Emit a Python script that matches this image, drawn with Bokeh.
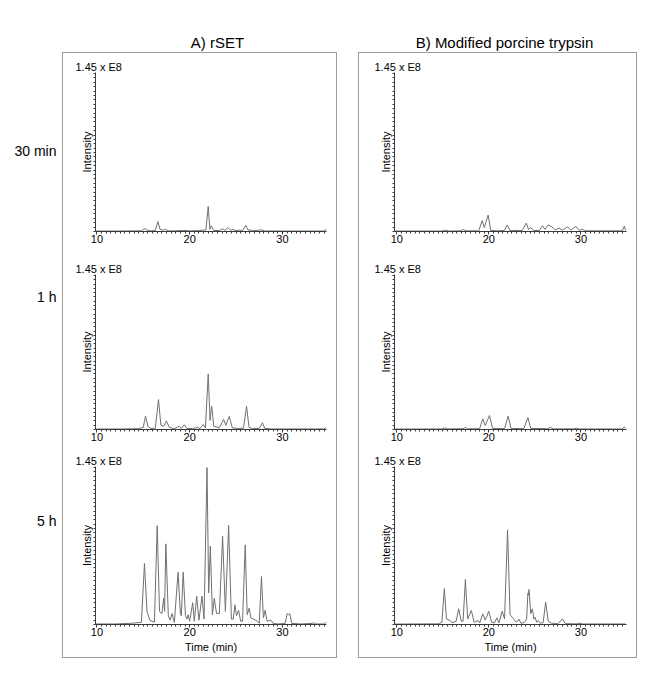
import numpy as np
from bokeh.plotting import figure
from bokeh.layouts import row, column
from bokeh.models import Range1d, SingleIntervalTicker, FixedTicker, Spacer
from bokeh.embed import file_html
from bokeh.resources import INLINE
from bokeh.core.properties import value

FONT = "Liberation Sans"

col_titles = ["A) rSET", "B) Modified porcine trypsin"]
row_labels = ["30 min", "1 h", "5 h"]
scale_label = "1.45 x E8"
y_label = "Intensity"
x_label = "Time (min)"
y_max = 1.45  # intensity in units of 1e8

# ---- A) rSET, 30 min : time (min), intensity (x1e8)
a30_t = [9.9, 12.0, 14.8, 15.0, 15.24, 15.5, 15.9, 16.3, 16.57, 16.8, 17.1, 17.4, 17.7, 18.5, 19.2, 20.0,
         21.0, 21.5, 21.75, 22.0, 22.18, 22.33, 22.6, 23.2, 23.55, 23.8, 24.12, 24.4, 24.7, 25.0, 25.4,
         25.7, 26.06, 26.3, 26.5, 26.8, 27.78, 28.1, 30.0, 32.0, 34.5, 34.68, 34.75]
a30_y = [0.004, 0.004, 0.006, 0.018, 0.025, 0.008, 0.006, 0.01, 0.091, 0.02, 0.012, 0.02, 0.006, 0.006, 0.01, 0.006,
         0.008, 0.014, 0.012, 0.228, 0.02, 0.052, 0.01, 0.008, 0.025, 0.01, 0.036, 0.012, 0.018, 0.008, 0.012,
         0.008, 0.055, 0.012, 0.016, 0.006, 0.015, 0.005, 0.004, 0.004, 0.004, 0.02, 0.01]

# ---- A) rSET, 1 h
a1h_t = [9.9, 13.0, 14.5, 15.0, 15.24, 15.5, 15.8, 16.3, 16.64, 16.9, 17.2, 17.5, 17.8, 18.3, 18.9, 19.1,
         19.43, 19.7, 20.3, 20.87, 21.1, 21.47, 21.7, 22.0, 22.2, 22.37, 22.6, 23.2, 23.66, 23.9, 24.27,
         24.6, 25.2, 25.8, 26.13, 26.4, 26.8, 27.5, 27.85, 28.1, 28.8, 31.0, 34.5, 34.68, 34.75]
a1h_y = [0.004, 0.005, 0.008, 0.02, 0.125, 0.03, 0.01, 0.012, 0.28, 0.04, 0.03, 0.08, 0.02, 0.008, 0.03, 0.01,
         0.045, 0.01, 0.008, 0.02, 0.008, 0.047, 0.015, 0.52, 0.085, 0.22, 0.03, 0.015, 0.094, 0.04, 0.122,
         0.015, 0.01, 0.012, 0.217, 0.02, 0.008, 0.01, 0.063, 0.01, 0.005, 0.005, 0.005, 0.018, 0.01]

# ---- A) rSET, 5 h
a5h_t = [9.9, 12.0, 13.5, 14.2, 14.8, 15.13, 15.4, 15.7, 16.2, 16.5, 16.75, 17.0, 17.2, 17.3, 17.43, 17.7,
         17.9, 18.1, 18.35, 18.75, 19.0, 19.1, 19.3, 19.55, 19.7, 19.83, 20.0, 20.33, 20.5, 20.76, 21.0,
         21.33, 21.55, 21.87, 22.05, 22.23, 22.45, 22.65, 22.9, 23.2, 23.55, 23.85, 24.2, 24.5, 24.7,
         24.88, 25.05, 25.27, 25.5, 25.7, 25.99, 26.2, 26.41, 26.6, 26.9, 27.3, 27.5, 27.74, 27.95, 28.13,
         28.35, 28.75, 29.0, 29.5, 30.3, 30.5, 30.65, 30.8, 31.0, 32.0, 33.2, 33.4, 33.6, 34.5, 34.68, 34.75]
a5h_y = [0.005, 0.005, 0.01, 0.015, 0.02, 0.56, 0.12, 0.04, 0.02, 0.906, 0.12, 0.1, 0.24, 0.12, 0.74, 0.08,
         0.04, 0.10, 0.02, 0.48, 0.1, 0.08, 0.48, 0.08, 0.05, 0.09, 0.03, 0.2, 0.03, 0.26, 0.04,
         0.26, 0.05, 1.44, 0.29, 0.72, 0.09, 0.24, 0.1, 0.1, 0.81, 0.12, 0.91, 0.05, 0.05,
         0.18, 0.08, 0.13, 0.03, 0.03, 0.73, 0.09, 0.15, 0.06, 0.05, 0.03, 0.01, 0.44, 0.06, 0.13,
         0.03, 0.04, 0.01, 0.005, 0.01, 0.1, 0.09, 0.1, 0.01, 0.005, 0.01, 0.015, 0.005, 0.005, 0.02, 0.01]

# ---- B) Modified porcine trypsin, 30 min
b30_t = [9.8, 14.9, 15.27, 15.6, 16.9, 17.26, 17.5, 18.9, 19.27, 19.5, 19.92, 20.2, 21.0, 21.7, 22.0, 22.3,
         23.3, 23.6, 24.07, 24.3, 24.55, 24.9, 25.5, 25.81, 26.1, 26.43, 26.83, 27.2, 27.63, 28.0, 28.54,
         28.9, 29.45, 29.8, 30.17, 30.5, 32.0, 34.5, 34.71, 34.85]
b30_y = [0.004, 0.004, 0.012, 0.004, 0.006, 0.018, 0.006, 0.006, 0.10, 0.035, 0.15, 0.01, 0.006, 0.01, 0.06, 0.008,
         0.01, 0.008, 0.076, 0.02, 0.036, 0.008, 0.01, 0.052, 0.02, 0.06, 0.043, 0.015, 0.03, 0.012, 0.043,
         0.012, 0.048, 0.01, 0.02, 0.006, 0.006, 0.006, 0.048, 0.01]

# ---- B) Modified porcine trypsin, 1 h
b1h_t = [9.8, 14.9, 15.2, 15.5, 17.2, 17.45, 17.7, 19.0, 19.34, 19.6, 20.07, 20.4, 21.7, 22.1, 22.4, 23.8,
         24.24, 24.55, 26.4, 26.72, 27.0, 29.2, 29.5, 29.8, 34.5, 34.71, 34.85]
b1h_y = [0.004, 0.005, 0.015, 0.005, 0.008, 0.019, 0.006, 0.008, 0.10, 0.037, 0.131, 0.01, 0.008, 0.125, 0.01, 0.008,
         0.112, 0.01, 0.008, 0.019, 0.006, 0.006, 0.012, 0.005, 0.005, 0.025, 0.01]

# ---- B) Modified porcine trypsin, 5 h
b5h_t = [9.8, 12.0, 14.5, 14.9, 15.16, 15.4, 15.8, 16.0, 16.45, 16.72, 17.0, 17.2, 17.45, 17.7, 18.1, 18.4,
         18.83, 19.0, 19.34, 19.6, 19.99, 20.3, 20.6, 20.87, 21.1, 21.45, 21.7, 22.03, 22.3, 22.6, 23.0,
         23.27, 23.5, 23.85, 24.1, 24.24, 24.3, 24.36, 24.55, 24.72, 24.9, 25.0, 25.2, 25.37, 25.6, 25.9,
         26.17, 26.45, 26.8, 27.2, 27.5, 27.99, 28.3, 29.5, 29.9, 30.2, 34.85]
b5h_y = [0.004, 0.005, 0.006, 0.02, 0.33, 0.05, 0.037, 0.015, 0.03, 0.144, 0.03, 0.03, 0.413, 0.05, 0.129, 0.02,
         0.037, 0.015, 0.098, 0.04, 0.122, 0.02, 0.015, 0.061, 0.015, 0.122, 0.05, 0.869, 0.09, 0.06, 0.02,
         0.049, 0.01, 0.02, 0.05, 0.288, 0.27, 0.321, 0.1, 0.144, 0.05, 0.067, 0.02, 0.037, 0.01, 0.02,
         0.205, 0.03, 0.012, 0.01, 0.006, 0.052, 0.008, 0.006, 0.012, 0.005, 0.005]

TRACE = "#707070"
AXIS = "#3a3a3a"
BOX = "#9c9c9c"

# panel geometry: (canvas height, border top, border bottom)
ROWS = [(200, 19, 22), (192, 21, 16), (212, 21, 33)]


def panel(t, y, width, geom, bl, br, xr, last):
    h, bt, bb = geom
    p = figure(width=width, height=h, x_range=Range1d(*xr), y_range=Range1d(0, y_max),
               output_backend="svg", toolbar_location=None,
               min_border_left=bl, min_border_right=br, min_border_top=bt, min_border_bottom=bb)
    p.outline_line_color = None
    p.grid.visible = False
    p.line(t, y, line_color=TRACE, line_width=1)

    # scale note at the top of the intensity axis
    p.title.text = scale_label
    p.title.align = "left"
    p.title.offset = -20
    p.title.standoff = 0
    p.title.text_font = FONT
    p.title.text_font_size = "11px"
    p.title.text_font_style = "normal"
    p.title.text_color = "black"

    xa = p.xaxis[0]
    xa.ticker = SingleIntervalTicker(interval=10, num_minor_ticks=20)
    xa.axis_line_color = AXIS
    xa.major_tick_line_color = AXIS
    xa.minor_tick_line_color = AXIS
    xa.major_tick_in = 0
    xa.major_tick_out = 3
    xa.minor_tick_in = 0
    xa.minor_tick_out = 2
    xa.major_label_standoff = 0
    xa.major_label_text_font = FONT
    xa.major_label_text_font_size = "11px"
    xa.major_label_text_color = "black"
    if last:
        xa.axis_label = x_label
        xa.axis_label_text_font = FONT
        xa.axis_label_text_font_size = "11px"
        xa.axis_label_text_font_style = "normal"
        xa.axis_label_text_color = "black"
        xa.axis_label_standoff = 2

    ya = p.yaxis[0]
    ya.ticker = FixedTicker(ticks=[], minor_ticks=list(np.arange(0, y_max, 0.04)))
    ya.axis_line_color = AXIS
    ya.major_tick_line_color = AXIS
    ya.minor_tick_line_color = AXIS
    ya.major_tick_in = 0
    ya.major_tick_out = 2
    ya.minor_tick_in = 0
    ya.minor_tick_out = 2
    ya.major_label_standoff = 0
    ya.axis_label = y_label
    ya.axis_label_text_font = FONT
    ya.axis_label_text_font_size = "11px"
    ya.axis_label_text_font_style = "normal"
    ya.axis_label_text_color = "black"
    ya.axis_label_standoff = 1
    return p


A_XR = (9.85, 34.75)
B_XR = (9.75, 34.95)

colA_figs = [panel(t, y, 273, g, 32, 10, A_XR, i == 2)
             for i, (t, y, g) in enumerate([(a30_t, a30_y, ROWS[0]), (a1h_t, a1h_y, ROWS[1]), (a5h_t, a5h_y, ROWS[2])])]
colB_figs = [panel(t, y, 277, g, 35, 10, B_XR, i == 2)
             for i, (t, y, g) in enumerate([(b30_t, b30_y, ROWS[0]), (b1h_t, b1h_y, ROWS[1]), (b5h_t, b5h_y, ROWS[2])])]

box_style = {"border": "1px solid " + BOX}
colA = column(*colA_figs, styles=box_style)
colB = column(*colB_figs, styles=box_style)

# title strip (includes the 8px page margin)
tf = figure(width=645, height=52, x_range=Range1d(0, 645), y_range=Range1d(52, 0),
            output_backend="svg", toolbar_location=None, x_axis_location=None, y_axis_location=None,
            min_border=0)
tf.outline_line_color = None
tf.grid.visible = False
tf.text(x=[217, 504], y=[42, 42], text=col_titles, text_align="center", text_baseline="alphabetic",
        text_font=value(FONT), text_font_size="15px", text_color="black")

# row labels strip (includes the 8px page margin)
lf = figure(width=62, height=606, x_range=Range1d(0, 62), y_range=Range1d(606, 0),
            output_backend="svg", toolbar_location=None, x_axis_location=None, y_axis_location=None,
            min_border=0)
lf.outline_line_color = None
lf.grid.visible = False
lf.text(x=[56, 56, 56], y=[98, 244, 468], text=row_labels, text_align="right", text_baseline="middle",
        text_font=value(FONT), text_font_size="14px", text_color="black")

layout = column(tf, row(lf, colA, Spacer(width=21, height=606), colB))

open("out.html", "w").write(file_html(layout, INLINE))
